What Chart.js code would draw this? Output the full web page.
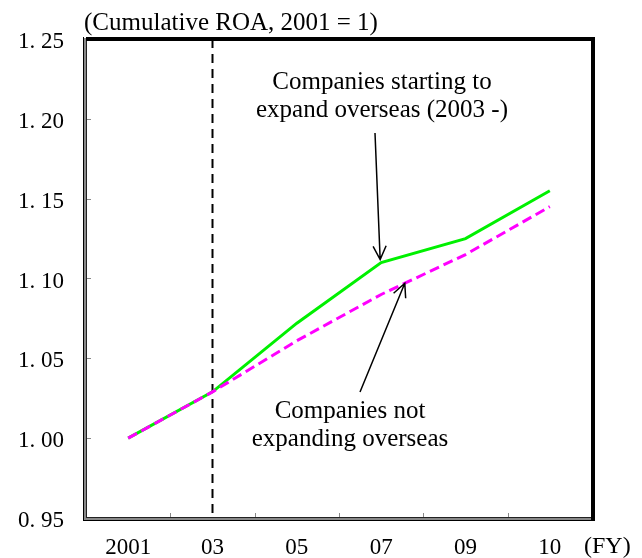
<!DOCTYPE html>
<html>
<head>
<meta charset="utf-8">
<script src="https://cdn.jsdelivr.net/npm/chart.js@4.4.1/dist/chart.umd.min.js"></script>
<style>
  html, body { margin: 0; padding: 0; background: #fff; }
  #wrap { width: 642px; height: 558px; }
</style>
</head>
<body>
<div id="wrap"><canvas id="roa" width="642" height="558"></canvas></div>
<script>
const years = ['2001', '03', '05', '07', '09', '10'];
const overseas = [1.000, 1.029, 1.072, 1.110, 1.125, 1.155];
const domestic = [1.000, 1.029, 1.061, 1.090, 1.115, 1.145];
const yTicks = [0.95, 1.00, 1.05, 1.10, 1.15, 1.20, 1.25];
const yTickLabels = ['0. 95', '1. 00', '1. 05', '1. 10', '1. 15', '1. 20', '1. 25'];
const startYear = 1; // index of '03', start of overseas expansion

const SERIF = '"Liberation Serif", "DejaVu Serif", serif';

// frame, inner tick marks, title, dashed marker line
const framePlugin = {
  id: 'frame',
  beforeDatasetsDraw(chart) {
    const { ctx, chartArea: a, scales: { x, y } } = chart;
    ctx.save();
    // vertical dashed line at 2003
    const vx = x.getPixelForValue(startYear);
    ctx.strokeStyle = '#000';
    ctx.lineWidth = 2;
    ctx.setLineDash([9, 6]);
    ctx.beginPath();
    ctx.moveTo(vx, a.top);
    ctx.lineTo(vx, a.bottom);
    ctx.stroke();
    ctx.setLineDash([]);

    // tick marks pointing inward
    ctx.strokeStyle = '#888';
    ctx.lineWidth = 1;
    ctx.beginPath();
    for (let i = 1; i < years.length; i++) {
      const tx = Math.round((x.getPixelForValue(i - 1) + x.getPixelForValue(i)) / 2) + 0.5;
      ctx.moveTo(tx, a.bottom);
      ctx.lineTo(tx, a.bottom - 5);
    }
    yTicks.slice(1, -1).forEach(v => {
      const ty = Math.round(y.getPixelForValue(v)) + 0.5;
      ctx.moveTo(a.left, ty);
      ctx.lineTo(a.left + 5, ty);
    });
    ctx.stroke();
    ctx.restore();
  },
  afterDraw(chart) {
    const { ctx, chartArea: a, scales: { x, y } } = chart;
    ctx.save();
    // left / bottom: double line
    ctx.fillStyle = '#000';
    ctx.fillRect(a.left - 3, a.top - 2, 1, a.bottom - a.top + 5);
    ctx.fillRect(a.left - 3, a.bottom + 2, a.right - a.left + 6, 1);
    ctx.fillStyle = '#888';
    ctx.fillRect(a.left - 2, a.top - 1, 2, a.bottom - a.top + 3);
    ctx.fillRect(a.left - 2, a.bottom, a.right - a.left + 4, 2);
    ctx.fillStyle = '#222';
    ctx.fillRect(a.left, a.top, 1, a.bottom - a.top);
    ctx.fillRect(a.left, a.bottom - 1, a.right - a.left, 1);
    // top / right: heavy black
    ctx.fillStyle = '#000';
    ctx.fillRect(a.left, a.top - 2, a.right - a.left + 3, 4);
    ctx.fillRect(a.right - 1, a.top - 2, 4, a.bottom - a.top + 5);

    // texts
    ctx.fillStyle = '#000';
    ctx.font = '25px ' + SERIF;
    ctx.textBaseline = 'alphabetic';
    ctx.textAlign = 'left';
    ctx.fillText('(Cumulative ROA, 2001 = 1)', 84, 30);
    ctx.font = '24px ' + SERIF;
    ctx.fillText('(FY)', 584, 553);

    ctx.font = '25px ' + SERIF;
    ctx.textAlign = 'center';
    ctx.fillText('Companies starting to', 382, 89);
    ctx.fillText('expand overseas (2003 -)', 382, 117);
    ctx.fillText('Companies not', 350, 418);
    ctx.fillText('expanding overseas', 350, 446);

    // arrows
    const arrow = (x0, y0, x1, y1) => {
      const ang = Math.atan2(y1 - y0, x1 - x0);
      const len = 15, spread = 0.45;
      ctx.strokeStyle = '#000';
      ctx.lineWidth = 1.5;
      ctx.beginPath();
      ctx.moveTo(x0, y0);
      ctx.lineTo(x1, y1);
      ctx.moveTo(x1 - len * Math.cos(ang - spread), y1 - len * Math.sin(ang - spread));
      ctx.lineTo(x1, y1);
      ctx.lineTo(x1 - len * Math.cos(ang + spread), y1 - len * Math.sin(ang + spread));
      ctx.stroke();
    };
    const tip1x = x.getPixelForValue(3) - 1;
    const tip1y = y.getPixelForValue(overseas[3]) - 3;
    arrow(375, 133, tip1x, tip1y);
    const tip2x = x.getPixelForValue(3.28);
    const tip2y = y.getPixelForValue(domestic[3] + 0.28 * (domestic[4] - domestic[3]));
    arrow(360, 392, tip2x, tip2y);
    ctx.restore();
  }
};

new Chart(document.getElementById('roa'), {
  type: 'line',
  data: {
    labels: years,
    datasets: [
      {
        label: 'Companies not expanding overseas',
        data: domestic,
        borderColor: '#ff00ff',
        borderWidth: 3,
        borderDash: [10, 5],
        pointRadius: 0,
        tension: 0,
        fill: false
      },
      {
        label: 'Companies starting to expand overseas (2003 -)',
        data: overseas,
        borderColor: '#00f000',
        borderWidth: 3,
        pointRadius: 0,
        tension: 0,
        fill: false
      }
    ]
  },
  options: {
    responsive: false,
    animation: false,
    layout: { padding: { top: 39, right: 50, left: 0, bottom: 0 } },
    plugins: {
      legend: { display: false },
      tooltip: { enabled: false },
      title: { display: false }
    },
    scales: {
      x: {
        type: 'category',
        offset: true,
        grid: { display: false, drawTicks: false },
        border: { display: false },
        ticks: {
          color: '#000',
          font: { family: SERIF, size: 23 },
          padding: 16,
          maxRotation: 0,
          autoSkip: false
        },
        afterFit(scale) { scale.height = 40; }
      },
      y: {
        min: 0.95,
        max: 1.25,
        afterBuildTicks(scale) { scale.ticks = yTicks.map(v => ({ value: v })); },
        grid: { display: false, drawTicks: false },
        border: { display: false },
        ticks: {
          color: '#000',
          font: { family: SERIF, size: 23 },
          padding: 22,
          labelOffset: 3,
          callback(v) {
            const i = yTicks.findIndex(t => Math.abs(t - v) < 1e-9);
            return i >= 0 ? yTickLabels[i] : '';
          }
        },
        afterFit(scale) { scale.width = 86; }
      }
    }
  },
  plugins: [framePlugin]
});
</script>
</body>
</html>
